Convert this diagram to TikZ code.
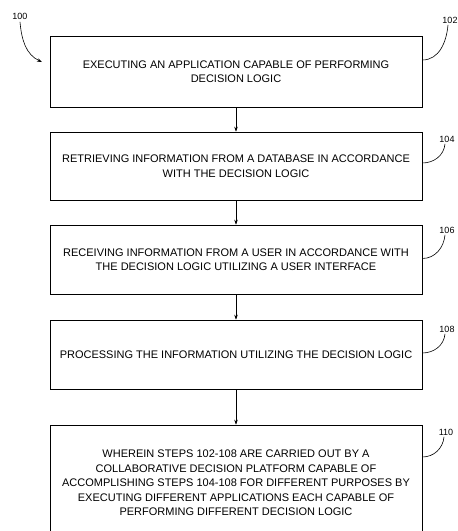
\documentclass[tikz,border=0pt]{standalone}
\usepackage{fontspec}
\setmainfont{Liberation Sans}
\usetikzlibrary{arrows.meta}

\begin{document}
\begin{tikzpicture}
      [   x=1pt,y=-1pt,
          stepbox/.style={draw=black,line width=0.6pt,minimum width=372pt,minimum height=#1,
                          inner sep=0pt,align=center,font=\fontsize{11}{14.5}\selectfont},
          refnum/.style={inner sep=0.5pt,font=\fontsize{9}{10}\selectfont},
          leader/.style={line width=0.6pt},
          >={Stealth[length=5pt,width=3.5pt]},
      ]
          \useasboundingbox (0,0) rectangle (458,531);
          \node[stepbox=71pt] (s102) at (236,71.5) {EXECUTING AN APPLICATION CAPABLE OF PERFORMING\\DECISION LOGIC};
          \node[stepbox=68pt] (s104) at (236,166) {RETRIEVING INFORMATION FROM A DATABASE IN ACCORDANCE\\WITH THE DECISION LOGIC};
          \node[stepbox=69pt] (s106) at (236,259.5) {RECEIVING INFORMATION FROM A USER IN ACCORDANCE WITH\\THE DECISION LOGIC UTILIZING A USER INTERFACE};
          \node[stepbox=69pt] (s108) at (236,354.5) {PROCESSING THE INFORMATION UTILIZING THE DECISION LOGIC};
          \node[stepbox=116pt] (s110) at (236,483) {WHEREIN STEPS 102-108 ARE CARRIED OUT BY A\\COLLABORATIVE DECISION PLATFORM CAPABLE OF\\ACCOMPLISHING STEPS 104-108 FOR DIFFERENT PURPOSES BY\\EXECUTING DIFFERENT APPLICATIONS EACH CAPABLE OF\\PERFORMING DIFFERENT DECISION LOGIC};
          \foreach \a/\b in {s102/s104,s104/s106,s106/s108,s108/s110}
          {   \draw[->,line width=0.6pt] (\a.south) -- (\b.north);
          }
          % reference numerals
          \node[refnum] (n100) at (20,16) {100};
          \coordinate (c100) at (42,62);
          \draw[->,leader] ([yshift=-2pt]n100.south) to[out=-85,in=155] (c100);
          \foreach \s/\y/\lx/\ly/\dy in {102/20/450/20/11.5,104/0/447/139/3,106/0/447/230/1,108/0/447/329/1.5,110/0/446/432/26}
          {   \node[refnum] (n\s) at (\lx,\ly) {\s};
              \draw[leader] ([yshift=\dy pt]s\s.east) to[out=0,in=-95] ([xshift=-2pt,yshift=-1pt]n\s.south);
          }
    \end{tikzpicture}
\end{document}
